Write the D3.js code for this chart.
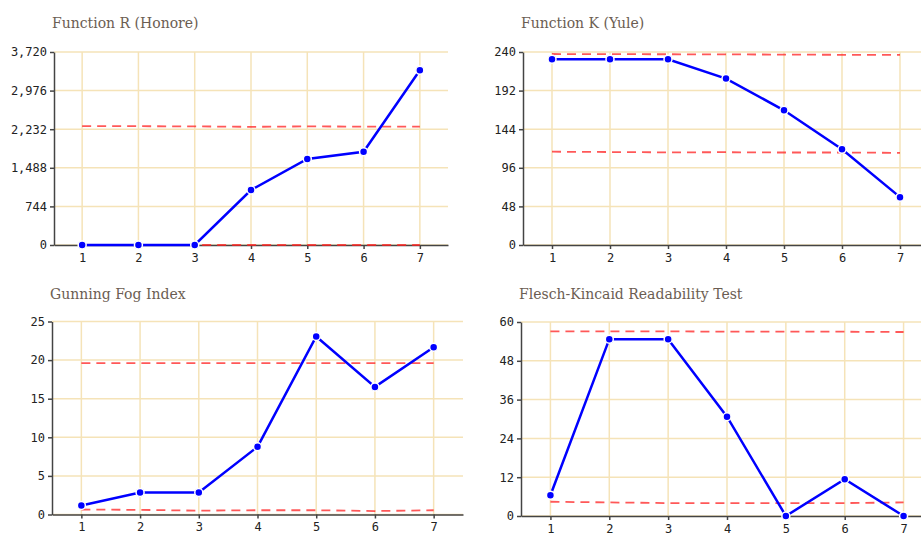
<!DOCTYPE html>
<html>
<head>
<meta charset="utf-8">
<script src="https://cdn.jsdelivr.net/npm/d3@7"></script>
<style>
  html, body { margin: 0; padding: 0; background: #fff; }
  svg { display: block; }
  .title { font-family: 'DejaVu Serif', serif; font-size: 14px; fill: #6b5d52; }
  .axis text { font-family: 'DejaVu Sans Mono', monospace; font-size: 12px; fill: #222; }
  .axis path, .axis line { stroke: #444; stroke-width: 1.5; }
  .grid line { stroke: #f5e3b8; stroke-width: 1.5; }
</style>
</head>
<body>
<svg id="chart" width="921" height="534"></svg>
<script>
const steps = [1, 2, 3, 4, 5, 6, 7];

const honoreValues = [0, 0, 0, 1060, 1658, 1798, 3367];
const honoreUpper = [2292, 2290, 2286, 2278, 2286, 2282, 2282];
const honoreLower = [0, 0, 0, 0, 0, 0, 0];
const honoreTicks = [0, 744, 1488, 2232, 2976, 3720];

const yuleValues = [231, 231, 231, 207, 167.5, 119, 59.5];
const yuleUpper = [237.5, 237.3, 237.2, 237, 236.8, 236.5, 236.3];
const yuleLower = [116, 115.6, 115.2, 115.4, 115, 115, 114.6];
const yuleTicks = [0, 48, 96, 144, 192, 240];

const fogValues = [1.17, 2.85, 2.85, 8.76, 23.06, 16.53, 21.67];
const fogUpper = [19.6, 19.6, 19.6, 19.6, 19.6, 19.6, 19.6];
const fogLower = [0.65, 0.6, 0.5, 0.55, 0.55, 0.45, 0.55];
const fogTicks = [0, 5, 10, 15, 20, 25];

const fleschValues = [6.4, 54.7, 54.7, 30.7, 0, 11.4, 0];
const fleschUpper = [57.1, 57.1, 57.1, 57, 57, 57, 56.9];
const fleschLower = [4.4, 4.2, 4.0, 4.0, 4.0, 4.0, 4.2];
const fleschTicks = [0, 12, 24, 36, 48, 60];

const panels = [
  { title: 'Function R (Honore)', values: honoreValues, upper: honoreUpper, lower: honoreLower, ticks: honoreTicks,
    left: 54, right: 448, top: 52, bottom: 245, tx: 52, ty: 28 },
  { title: 'Function K (Yule)', values: yuleValues, upper: yuleUpper, lower: yuleLower, ticks: yuleTicks,
    left: 523, right: 929, top: 52, bottom: 245, tx: 521, ty: 28 },
  { title: 'Gunning Fog Index', values: fogValues, upper: fogUpper, lower: fogLower, ticks: fogTicks,
    left: 52, right: 463, top: 321.5, bottom: 514.5, tx: 50, ty: 299 },
  { title: 'Flesch-Kincaid Readability Test', values: fleschValues, upper: fleschUpper, lower: fleschLower, ticks: fleschTicks,
    left: 521, right: 933, top: 322, bottom: 516, tx: 519, ty: 299 },
];

const svg = d3.select('#chart');

panels.forEach((p) => {
  const g = svg.append('g');
  const x = d3.scaleLinear().domain([0.5, 7.5]).range([p.left, p.right]);
  const y = d3.scaleLinear().domain([0, d3.max(p.ticks)]).range([p.bottom, p.top]);

  g.append('text').attr('class', 'title').attr('x', p.tx).attr('y', p.ty).text(p.title);

  const grid = g.append('g').attr('class', 'grid');
  grid.selectAll('line.h').data(p.ticks).join('line').attr('class', 'h')
    .attr('x1', p.left).attr('x2', p.right)
    .attr('y1', (d) => y(d)).attr('y2', (d) => y(d));
  grid.selectAll('line.v').data(steps).join('line').attr('class', 'v')
    .attr('x1', (d) => x(d)).attr('x2', (d) => x(d))
    .attr('y1', p.top).attr('y2', p.bottom);

  g.append('g').attr('class', 'axis')
    .attr('transform', `translate(${p.left},0)`)
    .call(d3.axisLeft(y).tickValues(p.ticks).tickSize(4).tickSizeOuter(0).tickPadding(3).tickFormat(d3.format(',')));

  g.append('g').attr('class', 'axis')
    .attr('transform', `translate(0,${p.bottom})`)
    .call(d3.axisBottom(x).tickValues(steps).tickSize(4).tickSizeOuter(0).tickPadding(4).tickFormat(d3.format('d')));

  const line = d3.line().x((d, i) => x(steps[i])).y((d) => y(d));

  [p.upper, p.lower].forEach((b) => {
    g.append('path').datum(b).attr('d', line)
      .attr('fill', 'none').attr('stroke', '#ff2020').attr('stroke-opacity', 0.75)
      .attr('stroke-width', 1.8).attr('stroke-dasharray', '9 6');
  });

  g.append('path').datum(p.values).attr('d', line)
    .attr('fill', 'none').attr('stroke', '#0000ff').attr('stroke-width', 2.5);

  g.selectAll('circle').data(p.values).join('circle')
    .attr('cx', (d, i) => x(steps[i])).attr('cy', (d) => y(d)).attr('r', 4)
    .attr('fill', '#0000ff').attr('stroke', '#fff').attr('stroke-width', 1.5);
});
</script>
</body>
</html>
